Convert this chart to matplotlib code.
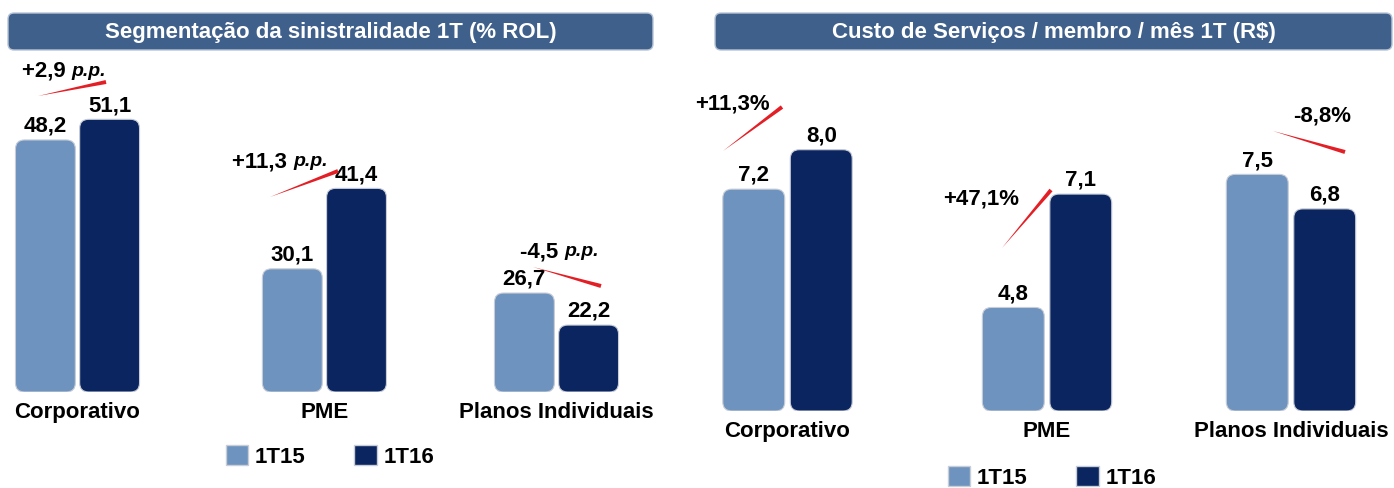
import matplotlib.pyplot as plt
from matplotlib.patches import FancyBboxPatch, Polygon, Patch
import numpy as np

plt.rcParams['font.family'] = ['Liberation Sans', 'DejaVu Sans']

W, H = 1394, 489

categorias = ['Corporativo', 'PME', 'Planos Individuais']
series = ['1T15', '1T16']
titulos = ['Segmentação da sinistralidade 1T (% ROL)',
           'Custo de Serviços / membro / mês 1T (R$)']

sinistralidade_1t15 = [48.2, 30.1, 26.7]
sinistralidade_1t16 = [51.1, 41.4, 22.2]
var_sinistralidade = ['+2,9', '+11,3', '-4,5']

custo_1t15 = [7.2, 4.8, 7.5]
custo_1t16 = [8.0, 7.1, 6.8]
var_custo = ['+11,3%', '+47,1%', '-8,8%']

# group positions on the slide are not evenly spaced
group_x = [0, 1.031, 2]

light = '#6E93BF'
dark = '#0B2561'
header = '#40608C'
red = '#E31E24'

fig = plt.figure(figsize=(W / 100, H / 100), dpi=100)


def fx(x):
    return x / W


def fy(y):
    return 1 - y / H


def make_axes(x0, x1, top, base, center0, px_unit, ybase, px_val):
    # axes placed in pixel terms, data scale chosen to follow the slide
    ax = fig.add_axes([fx(x0), fy(base), fx(x1) - fx(x0), (base - top) / H])
    ax.set_xlim((x0 - center0) / px_unit, (x1 - center0) / px_unit)
    ax.set_ylim(ybase, ybase + (base - top) / px_val)
    ax.axis('off')
    return ax


def draw_bars(ax, v15, v16, width, off, ybase, px_unit, px_val):
    x = np.array(group_x)
    for vals, col, dx in [(v15, light, -off), (v16, dark, off)]:
        bars = ax.bar(x + dx, np.array(vals) - ybase, width, bottom=ybase, color=col)
        for rect in bars:
            rect.set_visible(False)
            r = 9 / px_unit
            p = FancyBboxPatch((rect.get_x(), rect.get_y()), rect.get_width(), rect.get_height(),
                               boxstyle=f'round,pad=0,rounding_size={r}',
                               mutation_aspect=px_unit / px_val,
                               facecolor=col, edgecolor='#c8cdd6', linewidth=0.8, zorder=2)
            ax.add_patch(p)
        for xi, v in zip(x + dx, vals):
            ax.annotate(f'{v:.1f}'.replace('.', ','), xy=(xi, v), xytext=(0, 3),
                        textcoords='offset points', ha='center', va='bottom',
                        fontsize=16, fontweight='bold')
    for xi, c in zip(x, categorias):
        ax.annotate(c, xy=(xi, 0), xycoords=('data', 'axes fraction'), xytext=(0, -14),
                    textcoords='offset points', ha='center', va='center',
                    fontsize=16, fontweight='bold')


# left: sinistralidade
axL = make_axes(5, 660, 60, 393, 77.5, 239.5, 12.8, 7.12)
draw_bars(axL, sinistralidade_1t15, sinistralidade_1t16, 0.25, 0.134, 12.8, 239.5, 7.12)

# right: custo por membro
axR = make_axes(700, 1394, 60, 412, 787.5, 251.75, 2.7, 49.3)
draw_bars(axR, custo_1t15, custo_1t16, 0.246, 0.134, 2.7, 251.75, 49.3)

# header boxes
for (x0, x1), t in zip([(8, 653), (715, 1392)], titulos):
    box = FancyBboxPatch((fx(x0), fy(51)), fx(x1) - fx(x0), 37 / H,
                         boxstyle=f'round,pad=0,rounding_size={6 / W}',
                         mutation_aspect=W / H, transform=fig.transFigure,
                         facecolor=header, edgecolor='#b8c4d6', linewidth=1)
    fig.add_artist(box)
    fig.text(fx((x0 + x1) / 2), fy(32.5), t, ha='center', va='center',
             color='white', fontsize=16, fontweight='bold')

# variation labels and red arrows (pixel layout)
txt_pos = [(22, 71), (232, 162), (520, 252), (695, 104), (943, 199), (1293, 116)]
arrows = [((38, 97), (106, 83)), ((270, 198), (338, 172)), ((533, 268), (601, 287)),
          ((723, 152), (782, 108)), ((1002, 249), (1051, 191)), ((1273, 132), (1345, 153))]
labels = var_sinistralidade + var_custo

fig.canvas.draw()
rend = fig.canvas.get_renderer()
for i, (lab, (tx, ty)) in enumerate(zip(labels, txt_pos)):
    t = fig.text(fx(tx), fy(ty), lab + (' ' if i < 3 else ''), ha='left', va='center',
                 fontsize=16, fontweight='bold')
    if i < 3:
        bb = t.get_window_extent(rend)
        fig.text(bb.x1 / W, fy(ty), 'p.p.', ha='left', va='center',
                 fontsize=14, fontweight='bold', fontstyle='italic')

for (p0, p1) in arrows:
    p0 = np.array(p0, float)
    p1 = np.array(p1, float)
    d = p1 - p0
    n = np.array([-d[1], d[0]]) / np.hypot(*d)
    hw = 2.0
    pts = [p0, p1 + n * hw, p1 - n * hw]
    poly = Polygon([(fx(p[0]), fy(p[1])) for p in pts], closed=True,
                   transform=fig.transFigure, facecolor=red, edgecolor='none')
    fig.add_artist(poly)

# legends
handles = [Patch(facecolor=light, edgecolor='#c8cdd6'), Patch(facecolor=dark, edgecolor='#c8cdd6')]
for cx, cy in [(330, 457), (1052, 478)]:
    fig.legend(handles, series, loc='center', bbox_to_anchor=(fx(cx), fy(cy)), ncol=2,
               frameon=False, prop={'size': 16, 'weight': 'bold'}, handlelength=1.0,
               handleheight=1.0, handletextpad=0.3, columnspacing=2.2)

fig.savefig('out.png', dpi=100)
